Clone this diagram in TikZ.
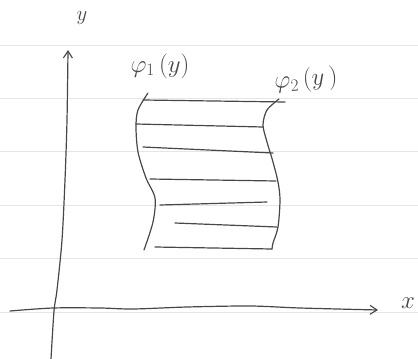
\documentclass[tikz,border=0pt]{standalone}
\usepackage{amsmath}
\usepackage{amssymb}
\usetikzlibrary{arrows.meta}

\tikzset{
	pen/.style={line width=1.2pt, color=black!72, line cap=round, line join=round},
	paperline/.style={line width=0.8pt, color=black!10},
	hand/.style={color=black!72, font=\fontsize{26}{30}\selectfont},
	tip/.style={-{Straight Barb[length=7pt, width=9pt, line width=1.1pt]}}
}

% ruled lines of the paper: first y, distance, count
\newcommand{\drawpaperlines}[3]{
	\foreach \i in {0, ..., #3}
	{
		\draw[paperline] (0, #1 + #2*\i) -- (418, #1 + #2*\i);
	}
}

\begin{document}
\begin{tikzpicture}[x=1pt, y=-1pt]
\useasboundingbox (0, 0) rectangle (418, 359);

\drawpaperlines{45}{53.4}{5};

% axes
\draw[pen, tip] plot[smooth] coordinates {(51, 359) (54, 311) (57, 290) (62, 240) (65, 180) (67, 120) (68, 50)};
\draw[pen, tip] plot[smooth] coordinates {(10, 311) (53, 308) (100, 308) (133, 309) (187, 307) (250, 306) (300, 308) (378, 310)};
\node[hand, font=\fontsize{20}{24}\selectfont] (ylabel) at (82, 18) {$y$};
\node[hand, font=\fontsize{32}{36}\selectfont] (xlabel) at (408, 303) {$x$};

% region between the two curves
\draw[pen] plot[smooth] coordinates {(148, 93) (138, 110) (136, 127) (138, 152) (146, 178) (155, 198) (153, 222) (144, 250)};
\draw[pen] plot[smooth] coordinates {(279, 99) (267, 110) (263, 125) (267, 142) (273, 162) (278, 182) (280, 200) (278, 227) (273, 243) (272, 249)};

\draw[pen] (143, 100) -- (285, 102);
\draw[pen] (136, 124) -- (263, 127);
\draw[pen] (143, 147) -- (273, 153);
\draw[pen] (150, 179) -- (276, 181);
\draw[pen] (160, 205) -- (267, 202);
\draw[pen] (175, 223) -- (277, 227);
\draw[pen] (155, 247) -- (272, 249);

\node[hand] (phione) at (160, 66) {$\varphi_1\,(y)$};
\node[hand, rotate=4] (phitwo) at (306, 80) {$\varphi_2\,(y\,)$};

\end{tikzpicture}
\end{document}
